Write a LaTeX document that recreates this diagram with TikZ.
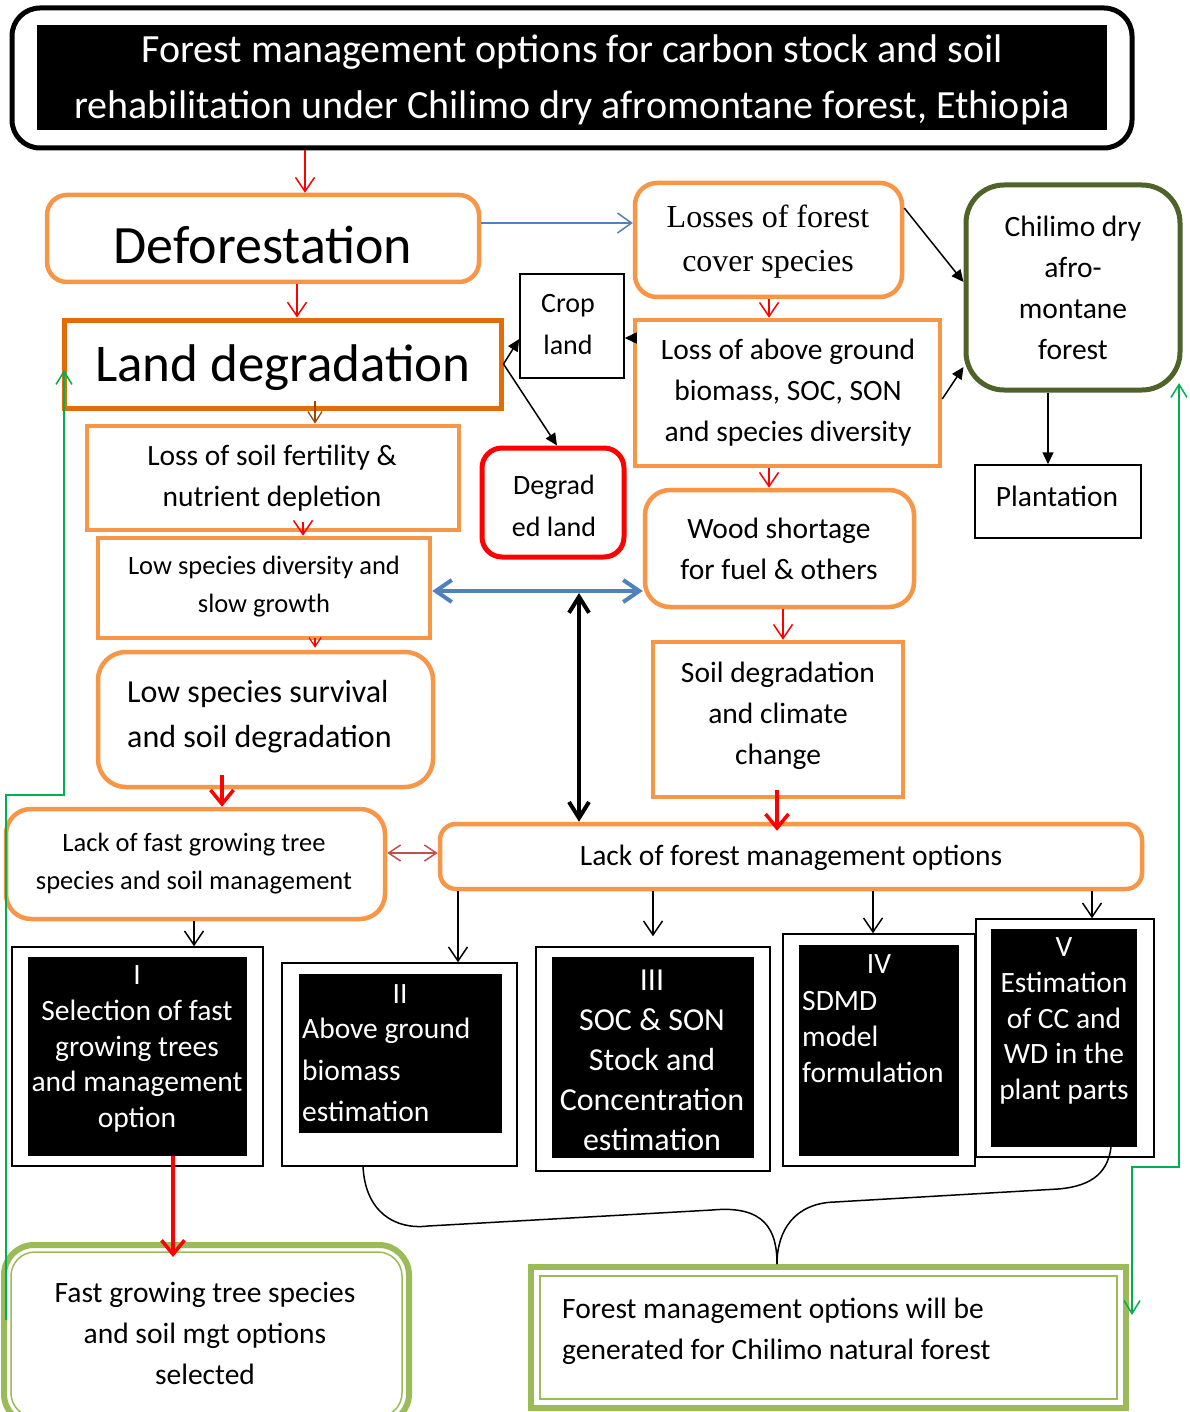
\documentclass[tikz,border=0pt]{standalone}
\usepackage{fontspec}
\setmainfont{Carlito}
\newfontfamily\tnrfont{Liberation Serif}
\usetikzlibrary{arrows.meta,calc}
\definecolor{cOr}{HTML}{F79646}
\definecolor{cDor}{HTML}{E36C09}
\definecolor{cBl}{HTML}{4F81BD}
\definecolor{cOl}{HTML}{4F6228}
\definecolor{cLg}{HTML}{9BBB59}
\definecolor{cGl}{HTML}{00B050}
\definecolor{cBr}{HTML}{984806}
\definecolor{cRb}{HTML}{C0504D}
\newcommand\fsz[2]{\fontsize{#1pt}{#2pt}\selectfont}
\newcommand\BX[6]{\node[#1, minimum width={(#4)-(#2)}, minimum height={(#5)-(#3)}] (#6) at ({((#2)+(#4))/2},{((#3)+(#5))/2}) {};}
\begin{document}
\begin{tikzpicture}[x=1pt,y=-1pt,
  gah/.tip={Straight Barb[length=13pt,width=16pt]},
  box/.style={draw, inner sep=0pt, shape=rectangle},
  obox/.style={box, draw=cOr, line width=4.5pt},
  kbox/.style={box, draw=black, line width=1.5pt},
  gbox/.style={box, draw=cLg, line width=6pt},
  blk/.style={box, draw=none, fill=black},
  tx/.style={inner sep=0pt, align=center, font=\fsz{29.5}{41}},
  wtx/.style={tx, text=white},
  ra/.style={draw=red, line width=1.5pt, -{Straight Barb[length=14pt,width=19pt]}},
  rta/.style={draw=red, line width=3.5pt, -{Straight Barb[length=14pt,width=23pt]}},
  ka/.style={draw=black, line width=1.5pt, -{Straight Barb[length=14pt,width=19pt]}},
  kf/.style={draw=black, line width=1.5pt, -{Triangle[length=12pt,width=11pt]}},
  ba/.style={draw=cBl, line width=1.5pt, -{Straight Barb[length=14pt,width=20pt]}},
  bba/.style={draw=cBl, line width=4pt, {Straight Barb[length=16pt,width=22pt]}-{Straight Barb[length=16pt,width=22pt]}},
  kka/.style={draw=black, line width=4pt, {Straight Barb[length=16pt,width=20pt]}-{Straight Barb[length=16pt,width=20pt]}},
  rba/.style={draw=cRb, line width=1.5pt, {Straight Barb[length=12pt,width=16pt]}-{Straight Barb[length=12pt,width=16pt]}},
  ga/.style={draw=cGl, line width=1.5pt}
]
\useasboundingbox (0,0) rectangle (1189,1412);
\fill[white] (0,0) rectangle (1189,1412);

% ---- boxes ----
\BX{box, draw=black, line width=5pt, rounded corners=28pt}{12}{8}{1132}{148}{title}
\BX{blk}{37}{25}{1107}{130}{titlei}
\BX{obox, rounded corners=20pt}{47}{195}{479}{282}{dfr}
\BX{box, draw=cDor, line width=5pt}{64}{320}{501}{408}{ldg}
\BX{obox}{87}{426}{459}{530}{lsf}
\BX{obox}{98}{538}{430}{638}{lsd}
\BX{obox, rounded corners=28pt}{98}{652}{433}{787}{lss}
\BX{obox, rounded corners=25pt}{6}{809}{385}{919}{lfg}
\BX{obox, rounded corners=16pt}{440}{824}{1142}{889}{lfm}
\BX{kbox}{520}{274}{624}{378}{crop}
\BX{box, draw=red, line width=5pt, rounded corners=20pt}{482}{448}{624}{557}{degr}
\BX{obox, rounded corners=22pt}{635}{183}{902}{297}{losses}
\BX{obox}{635}{320}{940}{466}{lab}
\BX{box, draw=cOl, line width=5pt, rounded corners=38pt}{966}{185}{1180}{390}{chil}
\BX{kbox}{975}{465}{1141}{538}{plant}
\BX{obox, rounded corners=25pt}{645}{490}{914}{607}{wood}
\BX{obox}{653}{642}{903}{797}{soil}
\BX{kbox}{12}{947}{263}{1166}{bIo}
\BX{blk}{28}{957}{247}{1156}{bIi}
\BX{kbox}{282}{963}{517}{1166}{bIIo}
\BX{blk}{299}{974}{502}{1133}{bIIi}
\BX{kbox}{536}{947}{770}{1171}{bIIIo}
\BX{blk}{552}{957}{754}{1158}{bIIIi}
\BX{kbox}{783}{934}{975}{1166}{bIVo}
\BX{blk}{799}{945}{959}{1156}{bIVi}
\BX{kbox}{976}{919}{1154}{1157}{bVo}
\BX{blk}{991}{929}{1137}{1147}{bVi}
\BX{gbox, rounded corners=30pt}{4}{1245}{409}{1424}{fgs}
\draw[cLg, line width=1.5pt, rounded corners=24pt] ([shift={(10,10)}]fgs.north west) rectangle ([shift={(-10,-10)}]fgs.south east);
\BX{gbox}{531}{1267}{1126}{1408}{fmo}
\draw[cLg, line width=1.5pt] ([shift={(12,12)}]fmo.north west) rectangle ([shift={(-12,-12)}]fmo.south east);

% ---- texts ----
\node[wtx, font=\fsz{40}{56}] (titlet) at (572,80) {Forest management options for carbon stock and soil\\rehabilitation under Chilimo dry afromontane forest, Ethiopia};
\node[tx, font=\fsz{54}{60}] (dfrt) at (263,245) {Deforestation};
\node[tx, font=\fsz{53}{60}] (ldgt) at (283,368) {Land degradation};
\node[tx] (lsft) at (272,478) {Loss of soil fertility \&\\nutrient depletion};
\node[tx, font=\fsz{26.5}{38}] (lsdt) at (264,587) {Low species diversity and\\slow growth};
\node[tx, font=\fsz{32}{45}, anchor=west, align=left] (lsst) at (127,717) {Low species survival\\and soil degradation};
\node[tx, font=\fsz{26.5}{38}] (lfgt) at (194,864) {Lack of fast growing tree\\species and soil management};
\node[tx] (lfmt) at (791,858) {Lack of forest management options};
\node[tx, font=\fsz{28}{42}] (cropt) at (568,325) {Crop\\land};
\node[tx, font=\fsz{28}{42}] (degrt) at (554,506) {Degrad\\ed land};
\node[tx, font=\tnrfont\fsz{32}{44}] (lossest) at (768,242) {Losses of forest\\cover species};
\node[tx] (labt) at (788,393) {Loss of above ground\\biomass, SOC, SON\\and species diversity};
\node[tx] (chilt) at (1073,288) {Chilimo dry\\afro-\\montane\\forest};
\node[tx] (plantt) at (1057,496) {Plantation};
\node[tx] (woodt) at (779,549) {Wood shortage\\for fuel \& others};
\node[tx] (soilt) at (778,716) {Soil degradation\\and climate\\change};
\node[wtx, font=\fsz{29.5}{35.75}] (bIt) at (137,1049) {I\\Selection of fast\\growing trees\\and management\\option};
\node[wtx] (bIIn) at (400,994) {II};
\node[wtx, font=\fsz{29.5}{41.5}, anchor=west, align=left] (bIIt) at (302,1070) {Above ground\\biomass\\estimation};
\node[wtx, font=\fsz{32}{40}] (bIIIt) at (652,1060) {III\\SOC \& SON\\Stock and\\Concentration\\estimation};
\node[wtx] (bIVn) at (879,964) {IV};
\node[wtx, font=\fsz{29.5}{36}, anchor=west, align=left] (bIVt) at (802,1037) {SDMD\\model\\formulation};
\node[wtx, font=\fsz{29.5}{35.75}] (bVt) at (1064,1021) {V\\Estimation\\of CC and\\WD in the\\plant parts};
\node[tx] (fgst) at (205,1333) {Fast growing tree species\\and soil mgt options\\selected};
\node[tx, anchor=west, align=left] (fmot) at (562,1331) {Forest management options will be\\generated for Chilimo natural forest};

% ---- connectors ----
\draw[ra] (305,0 |- title.south) -- (305,0 |- dfr.north);
\draw[ba] (0,223 -| dfr.east) -- (0,223 -| losses.west);
\draw[ra] (297,0 |- dfr.south) -- (297,0 |- ldg.north);
\draw[draw=cBr, line width=1.3pt, -{Straight Barb[length=11pt,width=14pt]}] ($(315,0 |- ldg.south)+(0,-10)$) -- (315,0 |- lsf.north);
\draw[ra] ($(303,0 |- lsf.south)+(0,-10)$) -- (303,0 |- lsd.north);
\draw[draw=red, line width=1.3pt, -{Straight Barb[length=9pt,width=12pt]}] ($(315,0 |- lsd.south)+(0,-2)$) -- ($(315,0 |- lss.north)+(0,-2)$);
\draw[rta] ($(222,0 |- lss.south)+(0,-14)$) -- (222,0 |- lfg.north);
\draw[rba] (0,853 -| lfg.east) -- (0,853 -| lfm.west);
\draw[kf] (ldg.east) -- (0,339 -| crop.west);
\draw[kf] (ldg.east) -- (557,0 |- degr.north);
\draw[kf] (0,338 -| lab.west) -- (0,338 -| crop.east);
\draw[kf] (0,208 -| losses.east) -- (0,282 -| chil.west);
\draw[kf] (0,399 -| lab.east) -- (0,367 -| chil.west);
\draw[kf] (1048,0 |- chil.south) -- (1048,0 |- plant.north);
\draw[ra] (769,0 |- losses.south) -- (769,0 |- lab.north);
\draw[ra] (769,0 |- lab.south) -- (769,0 |- wood.north);
\draw[bba] (0,591 -| lsd.east) -- (0,591 -| wood.west);
\coordinate (bj) at (579,593);
\draw[kka] (bj) -- (579,0 |- lfm.north);
\draw[ra] (783,0 |- wood.south) -- (783,0 |- soil.north);
\draw[rta] ($(777,0 |- soil.south)+(0,-9)$) -- ($(777,0 |- lfm.north)+(0,9)$);
\draw[ka] (194,0 |- lfg.south) -- (194,0 |- bIo.north);
\draw[ka] (458,0 |- lfm.south) -- (458,0 |- bIIo.north);
\draw[ka] (653,0 |- lfm.south) -- ($(653,0 |- bIIIo.north)+(0,-10)$);
\draw[ka] (873,0 |- lfm.south) -- (873,0 |- bIVo.north);
\draw[ka] (1092,0 |- lfm.south) -- (1092,0 |- bVo.north);
\draw[rta] (173,0 |- bIi.south) -- ($(173,0 |- fgs.north)+(0,15)$);
% brace
\coordinate (brA) at (363,1166);
\coordinate (brT) at (777,0 |- fmo.north);
\coordinate (brB) at (1111,0 |- bVi.south);
\draw[line width=1.5pt] (brA) .. controls (365,1212) and (395,1230) .. (428,1226) -- (712,1210) .. controls (765,1205) and (777,1230) .. (brT);
\draw[line width=1.5pt] (brT) .. controls (777,1230) and (795,1203) .. (835,1202) -- (1058,1189) .. controls (1095,1186) and (1108,1170) .. (brB);
% green lines
\coordinate (gl) at (6,1320);
\coordinate (gtop) at (64,370);
\draw[ga, -gah] (gl) -- (6,795) -- (64,795) -- (gtop);
\coordinate (gr1) at (1179,383);
\coordinate (gr2) at (1132,1315);
\draw[ga, gah-gah] (gr1) -- (1179,1167) -- (1132,1167) -- (gr2);
\end{tikzpicture}
\end{document}
